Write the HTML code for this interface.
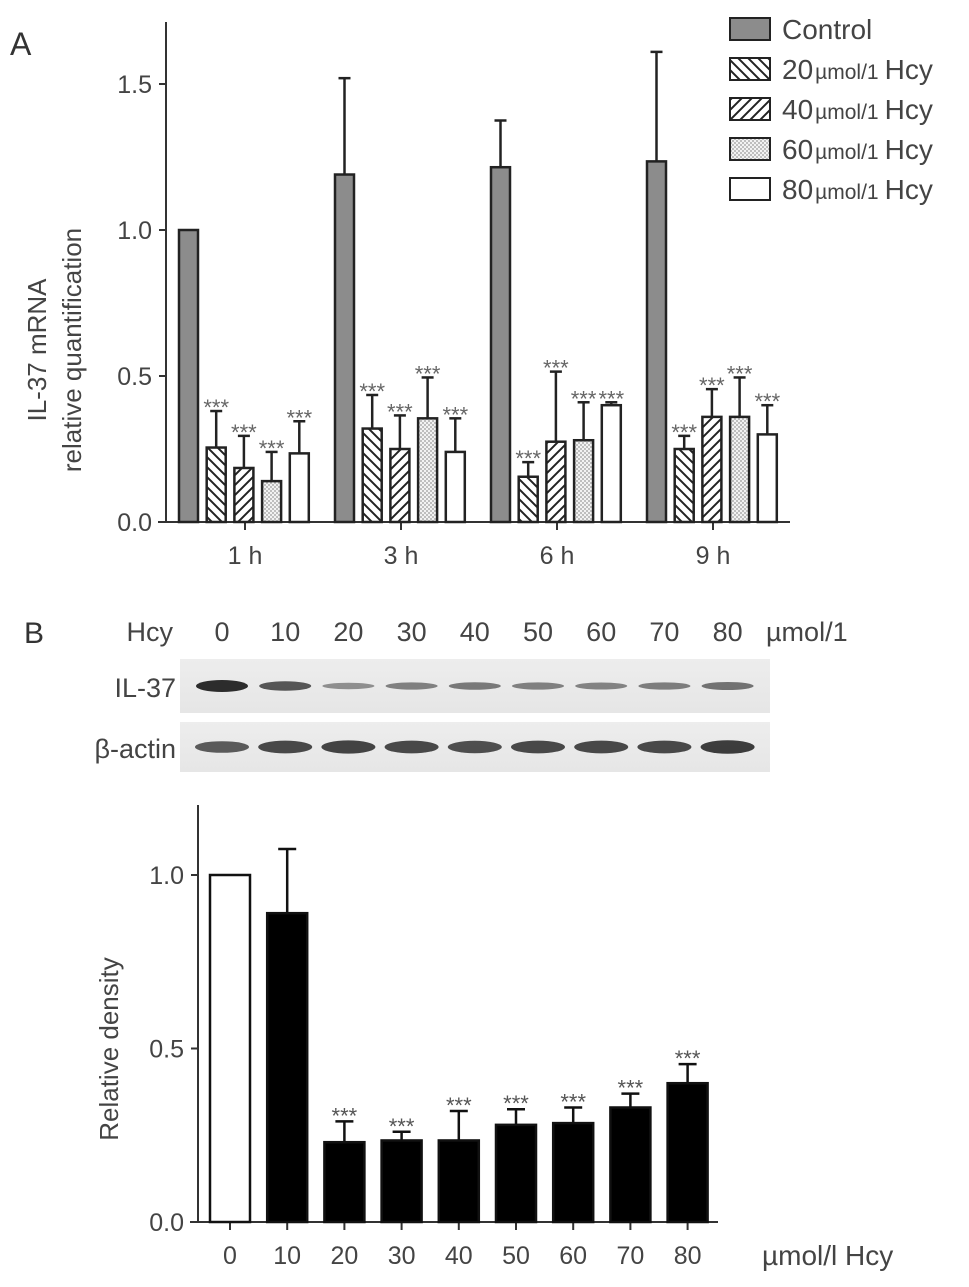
<!DOCTYPE html>
<html><head><meta charset="utf-8"><style>
html,body{margin:0;padding:0;background:#fff}
svg{display:block;font-family:"Liberation Sans",sans-serif}
</style></head><body>
<svg width="969" height="1287" viewBox="0 0 969 1287">
<defs>
<pattern id="p20" patternUnits="userSpaceOnUse" width="10" height="10"><rect width="10" height="10" fill="#fff"/><path d="M-2,-2 L12,12 M-2,8 L2,12 M8,-2 L12,2" stroke="#222" stroke-width="2"/></pattern>
<pattern id="p40" patternUnits="userSpaceOnUse" width="10" height="10"><rect width="10" height="10" fill="#fff"/><path d="M-2,12 L12,-2 M-2,2 L2,-2 M8,12 L12,8" stroke="#222" stroke-width="2"/></pattern>
<pattern id="p60" patternUnits="userSpaceOnUse" width="4" height="4"><rect width="4" height="4" fill="#f2f2f2"/><circle cx="1" cy="1" r="0.9" fill="#999"/><circle cx="3" cy="3" r="0.9" fill="#999"/></pattern>
<linearGradient id="blotbg" x1="0" x2="0" y1="0" y2="1"><stop offset="0" stop-color="#ededed"/><stop offset="1" stop-color="#e6e6e6"/></linearGradient>
</defs>
<g id="chartA"></g>
<g id="blot"></g>
<g id="chartB"></g>
</svg>
<script>
// Chart A data
const groupsA = ["1 h","3 h","6 h","9 h"];
const seriesNamesA = ["Control","20 µmol/1 Hcy","40 µmol/1 Hcy","60 µmol/1 Hcy","80 µmol/1 Hcy"];
const controlVals = [1.0,1.19,1.215,1.235];
const controlErr = [1.0,1.52,1.375,1.61];
const hcy20Vals = [0.255,0.32,0.155,0.25];
const hcy20Err = [0.38,0.435,0.205,0.295];
const hcy40Vals = [0.185,0.25,0.275,0.36];
const hcy40Err = [0.295,0.365,0.515,0.455];
const hcy60Vals = [0.14,0.355,0.28,0.36];
const hcy60Err = [0.24,0.495,0.41,0.495];
const hcy80Vals = [0.235,0.24,0.40,0.30];
const hcy80Err = [0.345,0.355,0.41,0.40];
const ticksA = [0.0,0.5,1.0,1.5];
const tickLabelsA = ["0.0","0.5","1.0","1.5"];
// Chart B data
const catsB = ["0","10","20","30","40","50","60","70","80"];
const densVals = [1.0,0.89,0.23,0.235,0.235,0.28,0.285,0.33,0.40];
const densErr = [1.0,1.075,0.29,0.26,0.32,0.325,0.33,0.37,0.455];
const ticksB = [0.0,0.5,1.0];
const tickLabelsB = ["0.0","0.5","1.0"];
const il37Int = [1.0,0.7,0.3,0.4,0.45,0.4,0.38,0.42,0.5];
const actinInt = [0.7,0.85,0.9,0.85,0.8,0.85,0.85,0.85,0.95];

const NS="http://www.w3.org/2000/svg";
function mk(parent,tag,attrs,text){const e=document.createElementNS(NS,tag);for(const k in attrs)e.setAttribute(k,attrs[k]);if(text!==undefined)e.textContent=text;parent.appendChild(e);return e;}

// ---- Chart A
const A=document.getElementById('chartA');
const yA=v=>522-v*292;
const gx=i=>245+i*156;
mk(A,'text',{x:10,y:55,'font-size':32,fill:'#333',},'A');
let ax=mk(A,'line',{x1:166,y1:22,x2:166,y2:523,stroke:'#333','stroke-width':2});

let xa=mk(A,'line',{x1:158,y1:522,x2:790,y2:522,stroke:'#333','stroke-width':2});

ticksA.forEach((t,i)=>{
  mk(A,'line',{x1:159,y1:yA(t),x2:166,y2:yA(t),stroke:'#333','stroke-width':2});
  const tl=mk(A,'text',{x:152,y:yA(t)+9,'font-size':25,fill:'#444','text-anchor':'end'},tickLabelsA[i]);
  
});
const yt=mk(A,'text',{transform:'translate(46,350) rotate(-90)','font-size':26,fill:'#444','text-anchor':'middle'});

mk(yt,'tspan',{x:0,y:0},'IL-37 mRNA');mk(yt,'tspan',{x:0,y:35},'relative quantification');
groupsA.forEach((g,i)=>{
  mk(A,'line',{x1:gx(i),y1:522,x2:gx(i),y2:530,stroke:'#333','stroke-width':2});
  const gl=mk(A,'text',{x:gx(i),y:564,'font-size':25,fill:'#444','text-anchor':'middle'},g);
  
});
const fills=['#8c8c8c','url(#p20)','url(#p40)','url(#p60)','#fff'];
const valsA=[controlVals,hcy20Vals,hcy40Vals,hcy60Vals,hcy80Vals];
const errsA=[controlErr,hcy20Err,hcy40Err,hcy60Err,hcy80Err];
const bw=19;
valsA.forEach((vals,s)=>{
  vals.forEach((v,i)=>{
    const x=gx(i)-66+s*27.7;
    const cx=x+bw/2;
    if(errsA[s][i]>v){
      mk(A,'line',{x1:cx,y1:yA(v),x2:cx,y2:yA(errsA[s][i]),stroke:'#222','stroke-width':2.5});
      mk(A,'line',{x1:cx-6,y1:yA(errsA[s][i]),x2:cx+6,y2:yA(errsA[s][i]),stroke:'#222','stroke-width':2.5});
    }
    const r=mk(A,'rect',{x:x,y:yA(v),width:bw,height:yA(0)-yA(v),fill:fills[s],stroke:'#222','stroke-width':2.5});
    
    
    if(s>0){
      const st=mk(A,'text',{x:cx,y:yA(errsA[s][i])+4,'font-size':22,fill:'#666','text-anchor':'middle'},'***');
      
    }
  });
});
// legend
seriesNamesA.forEach((n,i)=>{
  const y=18+i*40;
  const lg=mk(A,'g',{});
  
  mk(lg,'rect',{x:730,y:y,width:40,height:22,fill:fills[i],stroke:'#222','stroke-width':2});
  const parts=n.split(' ');
  if(i===0){mk(lg,'text',{x:782,y:y+21,'font-size':28,fill:'#444'},n);}
  else{
    const t=mk(lg,'text',{x:782,y:y+21,'font-size':28,fill:'#444'});
    mk(t,'tspan',{},parts[0]);
    mk(t,'tspan',{'font-size':21,dx:2},parts[1]);
    mk(t,'tspan',{dx:6},parts[2]);
  }
});

// ---- Blot
const B=document.getElementById('blot');
mk(B,'text',{x:24,y:643,'font-size':30,fill:'#333',},'B');
const laneX=i=>222+i*63.2;
mk(B,'text',{x:173,y:641,'font-size':27,fill:'#444','text-anchor':'end'},'Hcy');
catsB.forEach((c,i)=>{
  const l=mk(B,'text',{x:laneX(i),y:641,'font-size':27,fill:'#444','text-anchor':'middle'},c);
  
});
mk(B,'text',{x:766,y:641,'font-size':27,fill:'#444'},'µmol/1');
mk(B,'text',{x:176,y:697,'font-size':27,fill:'#444','text-anchor':'end'},'IL-37');
mk(B,'text',{x:176,y:758,'font-size':27,fill:'#444','text-anchor':'end'},'β-actin');
const s1=mk(B,'rect',{x:180,y:659,width:590,height:54,fill:'url(#blotbg)'});

const s2=mk(B,'rect',{x:180,y:722,width:590,height:50,fill:'url(#blotbg)'});

il37Int.forEach((v,i)=>{
  const b=mk(B,'ellipse',{cx:laneX(i),cy:686,rx:26,ry:2+v*4,fill:'#222','fill-opacity':0.25+v*0.7});
  
});
actinInt.forEach((v,i)=>{
  const b=mk(B,'ellipse',{cx:laneX(i),cy:747,rx:27,ry:3+v*4,fill:'#222','fill-opacity':0.3+v*0.6});
  
});

// ---- Chart B
const C=document.getElementById('chartB');
const yB=v=>1222-v*347;
const xB=i=>230+i*57.2;
let ay=mk(C,'line',{x1:198,y1:805,x2:198,y2:1223,stroke:'#333','stroke-width':2});

let axb=mk(C,'line',{x1:190,y1:1222,x2:718,y2:1222,stroke:'#333','stroke-width':2});

ticksB.forEach((t,i)=>{
  mk(C,'line',{x1:191,y1:yB(t),x2:198,y2:yB(t),stroke:'#333','stroke-width':2});
  const tl=mk(C,'text',{x:184,y:yB(t)+9,'font-size':25,fill:'#444','text-anchor':'end'},tickLabelsB[i]);
  
});
const ytb=mk(C,'text',{transform:'translate(118,1049) rotate(-90)','font-size':26,fill:'#444','text-anchor':'middle'},'Relative density');

catsB.forEach((c,i)=>{
  const cx=xB(i);
  mk(C,'line',{x1:cx,y1:1222,x2:cx,y2:1230,stroke:'#333','stroke-width':2});
  const l=mk(C,'text',{x:cx,y:1264,'font-size':25,fill:'#444','text-anchor':'middle'},c);
  
  const v=densVals[i];
  if(densErr[i]>v){
    mk(C,'line',{x1:cx,y1:yB(v),x2:cx,y2:yB(densErr[i]),stroke:'#111','stroke-width':2.5});
    mk(C,'line',{x1:cx-9,y1:yB(densErr[i]),x2:cx+9,y2:yB(densErr[i]),stroke:'#111','stroke-width':2.5});
  }
  const r=mk(C,'rect',{x:cx-20,y:yB(v),width:40,height:yB(0)-yB(v),fill:i===0?'#fff':'#000',stroke:'#111','stroke-width':2.5});
  
  
  if(i>=2){
    const st=mk(C,'text',{x:cx,y:yB(densErr[i])+2,'font-size':22,fill:'#555','text-anchor':'middle'},'***');
    
  }
});
const xt=mk(C,'text',{x:762,y:1265,'font-size':28,fill:'#444'},'µmol/l Hcy');

</script>
</body></html>
